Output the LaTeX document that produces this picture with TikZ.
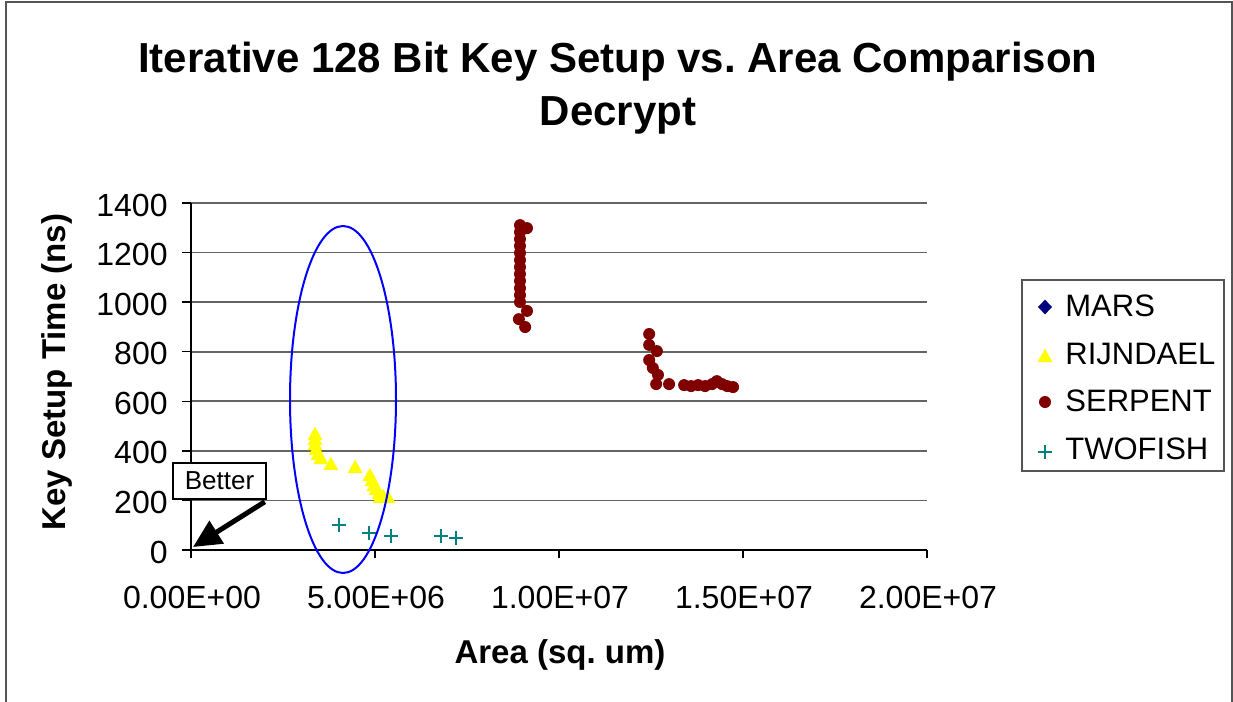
\documentclass[tikz,border=0pt]{standalone}
\usepackage{fontspec}
\setmainfont{Liberation Sans}
\usetikzlibrary{arrows.meta}

\definecolor{rijn}{RGB}{255,255,0}
\definecolor{serp}{RGB}{128,0,0}
\definecolor{twof}{RGB}{0,128,128}
\definecolor{mars}{RGB}{0,0,128}
\definecolor{framegray}{RGB}{85,85,85}
\definecolor{gridgray}{RGB}{100,100,100}

\tikzset{
  gridline/.style={gridgray, line width=0.9pt},
  axisline/.style={black, line width=0.7pt},
  ticklabel/.style={font=\fontsize{16}{19}\selectfont, inner sep=0pt},
  axistitle/.style={font=\bfseries\fontsize{16.5}{19}\selectfont, inner sep=0pt},
  titletext/.style={font=\bfseries\fontsize{21}{25}\selectfont, inner sep=0pt, anchor=base},
  legendtext/.style={font=\fontsize{15.5}{18}\selectfont, inner sep=0pt, anchor=west},
  tri/.pic={\fill[rijn] (-3.7pt,-3pt) -- (3.7pt,-3pt) -- (0pt,3.6pt) -- cycle;},
  dot/.pic={\fill[serp] (0,0) circle[radius=3pt];},
  crs/.pic={\draw[twof, line width=1.1pt] (-3.4pt,0pt) -- (3.4pt,0pt) (0pt,-3.4pt) -- (0pt,3.4pt);},
  dia/.pic={\fill[mars] (-3.5pt,0pt) -- (0pt,3.7pt) -- (3.5pt,0pt) -- (0pt,-3.7pt) -- cycle;}
}

\begin{document}
\frenchspacing
\begin{tikzpicture}[x=0.5pt, y=-0.5pt]
  \clip (0,0) rectangle (1233,702);
  \fill[white] (0,0) rectangle (1233,702);
  \draw[framegray, line width=1pt] (6,1.5) rectangle (1232,720);

  % title
  \node[titletext] (title1) at (618,72) {Iterative 128 Bit Key Setup vs.\ Area Comparison};
  \node[titletext] (title2) at (618,125) {Decrypt};

  % grid and axes
  \foreach \i in {1,...,7}
    \draw[gridline] (191,{550-\i*49.571}) -- (927,{550-\i*49.571});
  \draw[axisline] (191,203) -- (191,558);
  \draw[axisline] (182,550) -- (927,550);
  \foreach \i in {1,...,7}
    \draw[axisline] (182,{550-\i*49.571}) -- (191,{550-\i*49.571});
  \foreach \i in {1,...,4}
    \draw[axisline] ({191+\i*184},550) -- ({191+\i*184},558);

  % tick labels
  \foreach \v [count=\i from 0] in {0,200,400,600,800,1000,1200,1400}
    \node[ticklabel, anchor=east] (ylab\i) at (168,{552-\i*49.571}) {\v};
  \foreach \t [count=\i from 0] in {0.00E+00,5.00E+06,1.00E+07,1.50E+07,2.00E+07}
    \node[ticklabel] (xlab\i) at ({192+\i*184},597) {\t};

  % axis titles
  \node[axistitle] (xtitle) at (560,655) {Area (sq. um)};
  \node[axistitle, rotate=90] (ytitle) at (57,372) {Key Setup Time (ns)};

  % data: x in units of 1e6 sq. um, y in ns
  \begin{scope}[shift={(95.5pt,-275pt)}, x=18.4pt, y=0.124pt]
    \foreach \px/\py in {3.37/468, 3.37/448, 3.37/427, 3.40/407, 3.45/387,
        3.53/371, 3.80/347, 4.46/335, 4.86/302, 4.92/282, 4.97/262,
        5.03/246, 5.11/230, 5.22/218, 5.35/214, 5.14/214}
      \pic at (\px,\py) {tri};
    \foreach \py in {1310,1282,1254,1226,1198,1169,1141,1113,1085,1056,1028,1000}
      \pic at (8.94,\py) {dot};
    \foreach \px/\py in {9.13/1298, 9.13/964, 8.91/931, 9.08/899,
        12.45/871, 12.45/827, 12.66/802, 12.45/766, 12.55/734, 12.69/706,
        12.64/669, 12.99/669, 13.40/665, 13.59/661, 13.78/665, 13.97/661,
        14.16/669, 14.29/681, 14.43/669, 14.57/661, 14.73/657}
      \pic at (\px,\py) {dot};
    \foreach \px/\py in {4.02/101, 4.84/69, 5.43/56, 6.79/56, 7.20/48}
      \pic at (\px,\py) {crs};
  \end{scope}

  % highlighted region
  \draw[blue, line width=1pt] (343,399.5) ellipse [x radius=53, y radius=173.5];

  % "Better" callout
  \node[draw, fill=white, line width=0.8pt, minimum width=46.5pt, minimum height=18pt,
        inner sep=0pt, font=\fontsize{13}{15}\selectfont] (better) at (219.5,481) {Better};
  \coordinate (origin) at (193,547);
  \draw[line width=2.5pt, -{Triangle[length=14pt,width=13pt]}]
    ([xshift=-1pt,yshift=-1pt]better.south east) -- (origin);

  % legend
  \draw[framegray, line width=0.8pt] (1022,280) rectangle (1224,471);
  \pic at (1045,307) {dia};
  \pic at (1045,356) {tri};
  \pic at (1045,402) {dot};
  \pic at (1045,452) {crs};
  \node[legendtext] (lmars) at (1065,306) {MARS};
  \node[legendtext] (lrijn) at (1065,354) {RIJNDAEL};
  \node[legendtext] (lserp) at (1065,401) {SERPENT};
  \node[legendtext] (ltwof) at (1065,449) {TWOFISH};
\end{tikzpicture}
\end{document}
